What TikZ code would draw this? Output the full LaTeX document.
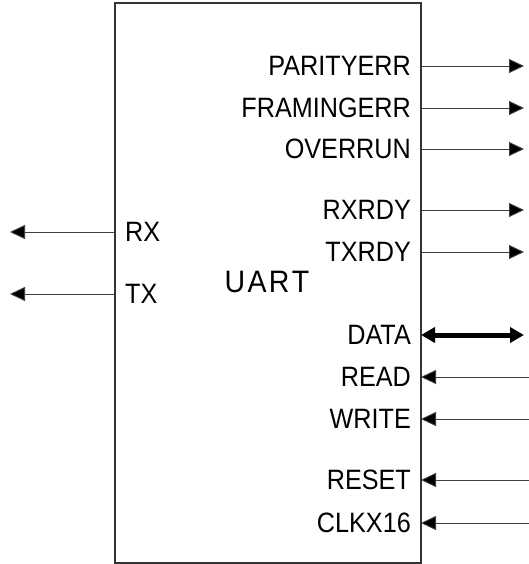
\documentclass[tikz,border=0pt]{standalone}
\usepackage{fontspec}
\setmainfont{Liberation Sans}
\usetikzlibrary{arrows.meta}
\begin{document}
\begin{tikzpicture}[x=1pt,y=-1pt,
  pin/.style={font=\fontsize{28}{28}\selectfont, inner sep=0pt, xscale=0.9, transform shape},
  rpin/.style={pin, anchor=east},
  lpin/.style={pin, anchor=west},
  sig/.style={draw=black!75, line width=0.9pt},
  tip/.style={-{Triangle[length=15pt,width=14pt,fill=black]}},
  bus/.style={draw=black, line width=5pt, {Triangle[length=14pt,width=15pt]}-{Triangle[length=14pt,width=15pt]}}]
  \useasboundingbox (0,0) rectangle (529,564);
  % block outline
  \draw[draw=black!80, line width=1.1pt] (115,3) rectangle (421,563);
  \node[font=\fontsize{31}{31}\selectfont, inner sep=0pt, xscale=0.92, transform shape] (uart) at (267,282) {U\kern2.5pt A\kern2.5pt R\kern2.5pt T};
  % left side pins
  \node[lpin] (rx) at (125,232) {RX};
  \node[lpin] (tx) at (125,294) {TX};
  \coordinate (rxb) at (115,232);  \coordinate (rxo) at (10,232);
  \coordinate (txb) at (115,294);  \coordinate (txo) at (10,294);
  \draw[sig,tip] (rxb) -- (rxo);
  \draw[sig,tip] (txb) -- (txo);
  % right side pins
  \foreach \n/\t/\y in {pe/PARITYERR/66, fe/FRAMINGERR/108, ov/OVERRUN/149,
      rr/RXRDY/210, tr/TXRDY/252, da/DATA/335, rd/READ/377, wr/WRITE/419,
      rs/RESET/480, ck/CLKX16/523}{
    \node[rpin] (\n) at (411,\y) {\t};
    \coordinate (\n b) at (421,\y);
    \coordinate (\n o) at (524,\y);
    \coordinate (\n e) at (529,\y);
  }
  % outputs
  \foreach \n in {pe,fe,ov,rr,tr}{
    \draw[sig,tip] (\n b) -- (\n o);
  }
  % bidirectional data bus
  \draw[bus] (dab) -- (dao);
  % inputs
  \foreach \n in {rd,wr,rs,ck}{
    \draw[sig,tip] (\n e) -- (\n b);
  }
\end{tikzpicture}
\end{document}
